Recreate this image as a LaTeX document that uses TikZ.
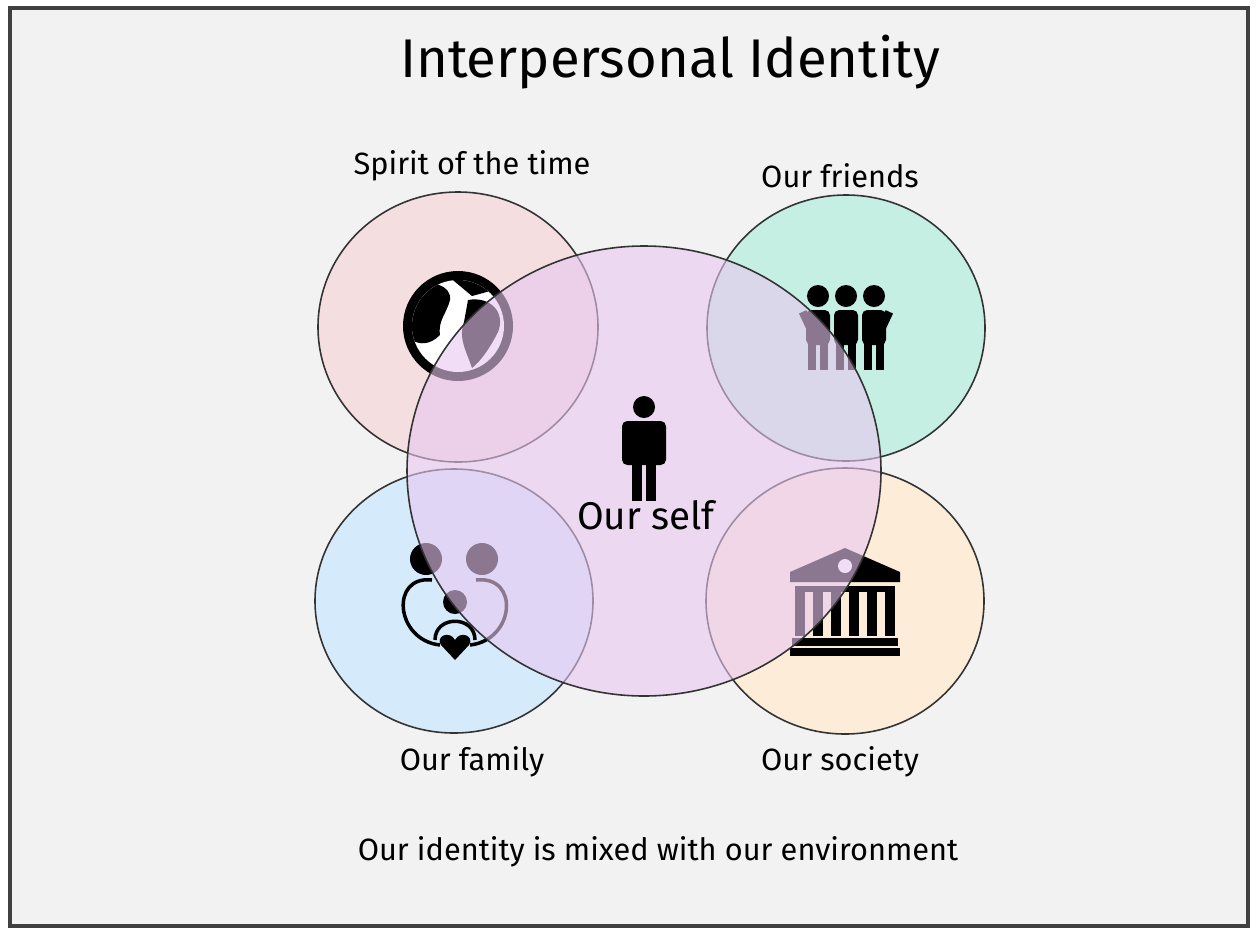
\documentclass[tikz,border=0pt]{standalone}
\usepackage{fontspec}
\setmainfont{Fira Sans}
\begin{document}
\begin{tikzpicture}[x=0.02cm,y=-0.02cm,
  venn/.style={draw=black!80,line width=0.9pt},
  lbl/.style={font=\fontsize{17.5}{21}\selectfont}]
\useasboundingbox (0,0) rectangle (1257,937);
\draw[fill=black!5,draw=black!75,line width=2.5pt] (10,8) rectangle (1248,926);
\node[font=\fontsize{31}{36}\selectfont] (title) at (670,62) {Interpersonal Identity};
% outer circles
\draw[venn,fill={rgb,255:red,244;green,222;blue,223}] (458,327) ellipse [x radius=140,y radius=135];
\draw[venn,fill={rgb,255:red,197;green,239;blue,227}] (846,328) ellipse [x radius=139,y radius=133];
\draw[venn,fill={rgb,255:red,213;green,234;blue,251}] (454,601) ellipse [x radius=139,y radius=132];
\draw[venn,fill={rgb,255:red,253;green,236;blue,215}] (845,601) ellipse [x radius=139,y radius=133];
% globe
\fill (458,326) circle (55);
\fill[white] (458,326) circle (46);
\begin{scope}
\clip (458,326) circle (46);
\fill (412,290) .. controls (430,278) and (452,285) .. (450,300) .. controls (446,315) and (438,320) .. (440,335) .. controls (430,345) and (420,345) .. (412,340) -- cycle;
\fill (468,300) .. controls (490,296) and (506,312) .. (498,332) .. controls (490,348) and (480,362) .. (472,368) .. controls (466,350) and (458,338) .. (464,322) -- cycle;
\fill (448,276) .. controls (462,272) and (482,278) .. (494,290) -- (472,296) -- cycle;
\end{scope}
% friends
\foreach \px in {818,846,874}{
  \fill (\px,296) circle (11);
  \fill[rounded corners=3] (\px-12,310) rectangle (\px+12,345);
  \fill (\px-10,340) rectangle (\px-2,370);
  \fill (\px+2,340) rectangle (\px+10,370);
}
\fill[rotate around={25:(803,315)}] (800,312) rectangle (808,345);
\fill[rotate around={-25:(889,315)}] (884,312) rectangle (892,345);
% family
\fill (426,559) circle (16);
\fill (482,559) circle (16);
\fill (455,602) circle (12);
\draw[line width=2pt] (432,580) .. controls (390,575) and (395,640) .. (440,645);
\draw[line width=2pt] (476,580) .. controls (520,575) and (515,640) .. (470,645);
\draw[line width=2pt] (435,640) .. controls (435,615) and (475,615) .. (475,640);
\fill (455,660) -- (441,645) .. controls (435,636) and (450,630) .. (455,640) .. controls (460,630) and (475,636) .. (469,645) -- cycle;
% society
\fill (845,548) -- (900,572) -- (900,582) -- (790,582) -- (790,572) -- cycle;
\fill[white] (845,566) circle (7);
\foreach \bx in {800,818,836,854,872,890}{\fill (\bx-5,590) rectangle (\bx+5,636);}
\fill (795,586) rectangle (895,592);
\fill (792,638) rectangle (898,646);
\fill (790,648) rectangle (900,656);
% self
\draw[venn,fill={rgb,255:red,232;green,200;blue,240},fill opacity=0.6] (644,471) ellipse [x radius=237,y radius=225];
\node (self) at (644,471) {};
\fill (644,407) circle (11);
\fill[rounded corners=3] (622,421) rectangle (666,465);
\fill (632,460) rectangle (642,501);
\fill (646,460) rectangle (656,501);
\node[font=\fontsize{22}{26}\selectfont] (selfl) at (646,515) {Our self};
\node[lbl] (l1) at (472,166) {Spirit of the time};
\node[lbl] (l2) at (840,176) {Our friends};
\node[lbl] (l3) at (472,762) {Our family};
\node[lbl] (l4) at (840,762) {Our society};
\node[lbl] (cap) at (658,852) {Our identity is mixed with our environment};
\end{tikzpicture}
\end{document}
